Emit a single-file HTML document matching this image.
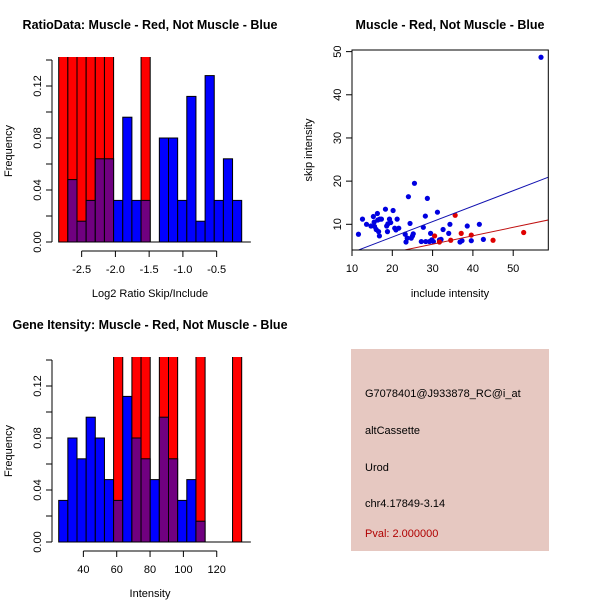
<!DOCTYPE html>
<html><head><meta charset="utf-8"><style>
body{margin:0;background:#fff}
svg{display:block;font-family:"Liberation Sans",sans-serif}
</style></head><body>
<svg id="c" width="600" height="600">
<rect x="0" y="0" width="600" height="600" fill="#fff"/>
<text x="150" y="29" text-anchor="middle" font-size="12.5" font-weight="bold">RatioData: Muscle - Red, Not Muscle - Blue</text>
<text x="450" y="29" text-anchor="middle" font-size="12.5" font-weight="bold">Muscle - Red, Not Muscle - Blue</text>
<text x="150" y="329" text-anchor="middle" font-size="12.5" font-weight="bold">Gene Itensity: Muscle - Red, Not Muscle - Blue</text>
<g id="g1"></g>
<g id="g2"></g>
<g id="g3"></g>
<g>
<rect x="351" y="349" width="198" height="202" fill="#e6c8c1"/>
<g font-size="11">
<text x="365" y="397">G7078401@J933878_RC@i_at</text>
<text x="365" y="434">altCassette</text>
<text x="365" y="471">Urod</text>
<text x="365" y="507">chr4.17849-3.14</text>
<text x="365" y="537" fill="#b00000">Pval: 2.000000</text>
</g></g>
</svg>
<script>
const ratioBlue=[0,0.048,0.016,0.032,0.064,0.064,0.032,0.096,0.032,0.032,0,0.08,0.08,0.032,0.112,0.016,0.128,0.032,0.064,0.032];
const ratioRed=[0.3,0.3,0.3,0.3,0.3,0.3,0,0,0,0.3,0,0,0,0,0,0,0,0,0,0];
const ratioTicks=[-2.5,-2.0,-1.5,-1.0,-0.5];
const intBlue=[0.032,0.08,0.064,0.096,0.08,0.048,0.032,0.112,0.08,0.064,0.048,0.096,0.064,0.032,0.048,0.016,0,0,0,0];
const intRed=[0,0,0,0,0,0,0.3,0,0.3,0.3,0,0.3,0.3,0,0,0.3,0,0,0,0.3];
const intTicks=[40,60,80,100,120];
const freqTicks=[0,0.04,0.08,0.12];
const blueX=[11.6,12.6,13.6,14.7,15.3,15.5,15.6,16.0,16.3,16.4,16.6,16.8,16.9,17.3,18.3,18.6,18.8,18.9,19.3,19.6,20.2,20.6,20.9,21.2,21.6,23.2,23.4,23.7,24.0,24.4,24.7,25.0,25.2,25.5,27.2,27.7,28.2,28.3,28.7,29.2,29.5,29.8,30.2,31.2,31.7,32.1,32.6,34.0,34.3,36.8,37.3,38.6,39.6,41.6,42.6,56.9];
const blueY=[7.7,11.2,10.0,9.6,11.8,10.5,9.5,8.8,12.5,11.0,8.3,7.3,11.2,11.2,13.5,9.6,8.3,10.1,11.2,10.4,13.2,9.1,8.7,11.2,9.1,7.7,5.9,6.8,16.4,10.2,6.8,7.3,7.8,19.5,6.0,9.3,11.9,6.0,16.0,6.0,7.9,6.4,6.0,12.8,6.4,6.5,8.8,7.9,10.0,5.9,6.2,9.6,6.2,10.0,6.5,48.7];
const redX=[30.5,31.7,35.6,37.1,39.6,45.0,52.6,34.5];
const redY=[7.3,5.9,12.1,7.9,7.5,6.3,8.1,6.3];
const scXTicks=[10,20,30,40,50];
const scYTicks=[10,20,30,40,50];
const blueFit=[-0.11,0.358], redFit=[-0.45,0.195];

const NS="http://www.w3.org/2000/svg";
function mk(p,t,a){const e=document.createElementNS(NS,t);for(const k in a)e.setAttribute(k,a[k]);p.appendChild(e);return e;}

function hist(g,blue,red,x0,binW,xmin,xScale,ticks,fmt,y0,top,xlabel,xlabelY){
  const ys=v=>y0-v*1300;
  const clipId=g.id+"clip";
  const cp=mk(mk(g,"defs",{}),"clipPath",{id:clipId});
  mk(cp,"rect",{x:0,y:top,width:600,height:400});
  const bars=mk(g,"g",{"clip-path":"url(#"+clipId+")"});
  for(let i=0;i<blue.length;i++){
    const x=x0+i*binW, b=blue[i], r=red[i];
    if(r>0){const e=mk(bars,"rect",{x:x,y:ys(r),width:binW,height:r*1300,fill:"#ff0000",stroke:"#000","stroke-width":1});
      
      }
    if(b>0){const e=mk(bars,"rect",{x:x,y:ys(b),width:binW,height:b*1300,fill:r>0?"#700080":"#0000ff",stroke:"#000","stroke-width":1});
      
      }
  }
  mk(g,"line",{x1:x0,x2:x0+(blue.length+1)*binW,y1:y0,y2:y0,stroke:"#000"});
  // y axis
  mk(g,"line",{x1:52,x2:52,y1:y0,y2:ys(0.14),stroke:"#000"});
  for(let v=0;v<=0.14+1e-9;v+=0.02){mk(g,"line",{x1:46,x2:52,y1:ys(v),y2:ys(v),stroke:"#000"});}
  freqTicks.forEach(v=>{const t=mk(g,"text",{x:0,y:0,"font-size":11,"text-anchor":"middle",transform:`translate(41,${ys(v)}) rotate(-90)`});t.textContent=v.toFixed(2);
    
    });
  const yl=mk(g,"text",{x:0,y:0,"font-size":11,"text-anchor":"middle",transform:`translate(12,${ys(0.07)}) rotate(-90)`});yl.textContent="Frequency";
  
  
  // x axis
  const xs=v=>x0+(v-xmin)*xScale;
  const ay=y0+9;
  mk(g,"line",{x1:xs(ticks[0]),x2:xs(ticks[ticks.length-1]),y1:ay,y2:ay,stroke:"#000"});
  ticks.forEach(v=>{mk(g,"line",{x1:xs(v),x2:xs(v),y1:ay,y2:ay+6,stroke:"#000"});
    const t=mk(g,"text",{x:xs(v),y:ay+22,"font-size":11,"text-anchor":"middle"});t.textContent=fmt(v);
    
    });
  const xl=mk(g,"text",{x:150,y:xlabelY,"font-size":11,"text-anchor":"middle"});xl.textContent=xlabel;
  
  
}
hist(document.getElementById("g1"),ratioBlue,ratioRed,58.7,9.15,-2.84,67.5,ratioTicks,v=>v.toFixed(1),242,57,"Log2 Ratio Skip/Include",297);
hist(document.getElementById("g3"),intBlue,intRed,58.7,9.15,25.2,1.667,intTicks,v=>String(v),542,357,"Intensity",597);

// scatter
(function(){
  const g=document.getElementById("g2");
  const L=352,R=548.3,T=50,B=250;
  const xs=v=>352+(v-10)*4.03, ys=v=>224.3-(v-10)*4.317;
  const cp=mk(mk(g,"defs",{}),"clipPath",{id:"scclip"});
  mk(cp,"rect",{x:L,y:T,width:R-L,height:B-T});
  const inner=mk(g,"g",{"clip-path":"url(#scclip)"});
  blueX.forEach((x,i)=>{const c=mk(inner,"circle",{cx:xs(x),cy:ys(blueY[i]),r:2.6,fill:"#0000e0"});
    
    });
  redX.forEach((x,i)=>{const c=mk(inner,"circle",{cx:xs(x),cy:ys(redY[i]),r:2.6,fill:"#e00000"});
    
    });
  const fl=(f,col,n)=>{const e=mk(inner,"line",{x1:xs(0),y1:ys(f[0]),x2:xs(70),y2:ys(f[0]+f[1]*70),stroke:col,"stroke-width":1});
    
    };
  fl(blueFit,"#1010b0","blue-fit-line");
  fl(redFit,"#c01010","red-fit-line");
  mk(g,"rect",{x:L,y:T,width:R-L,height:B-T,fill:"none",stroke:"#000"});
  scXTicks.forEach(v=>{mk(g,"line",{x1:xs(v),x2:xs(v),y1:B,y2:B+6,stroke:"#000"});
    const t=mk(g,"text",{x:xs(v),y:B+22,"font-size":11,"text-anchor":"middle"});t.textContent=v;
    
    });
  scYTicks.forEach(v=>{mk(g,"line",{x1:L-6,x2:L,y1:ys(v),y2:ys(v),stroke:"#000"});
    const t=mk(g,"text",{x:0,y:0,"font-size":11,"text-anchor":"middle",transform:`translate(341,${ys(v)}) rotate(-90)`});t.textContent=v;
    
    });
  const xl=mk(g,"text",{x:450,y:297,"font-size":11,"text-anchor":"middle"});xl.textContent="include intensity";
  
  
  const yl=mk(g,"text",{x:0,y:0,"font-size":11,"text-anchor":"middle",transform:"translate(312,150) rotate(-90)"});yl.textContent="skip intensity";
  
  
})();
</script>
</body></html>
